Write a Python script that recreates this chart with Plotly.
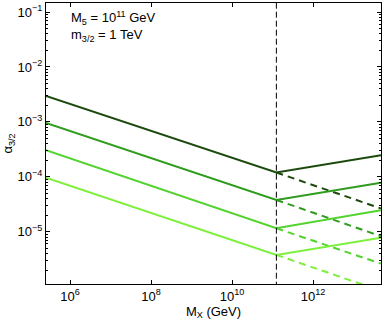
import plotly.graph_objects as go

# M_X values (GeV): left edge, kink at the dashed line, right edge
mx = [2.55e5, 1.24e11, 4.74e13]
mx_dash = [1.24e11, 4.74e13]
mx_vline = [1.24e11, 1.24e11]
alpha_vline = [1e-7, 1.0]

# solid curves, top (dark) to bottom (light)
alpha_solid_1 = [2.97e-3, 1.20e-4, 2.48e-4]
alpha_solid_2 = [9.6e-4, 3.8e-5, 7.8e-5]
alpha_solid_3 = [3.05e-4, 1.16e-5, 2.48e-5]
alpha_solid_4 = [9.7e-5, 3.8e-6, 7.8e-6]

# dashed continuations past the kink
alpha_dash_1 = [1.20e-4, 2.66e-5]
alpha_dash_2 = [3.8e-5, 8.3e-6]
alpha_dash_3 = [1.16e-5, 2.63e-6]
alpha_dash_4 = [3.8e-6, 8.4e-7]

colors = ["#1c4a0e", "#2f9c1e", "#52d32e", "#7df03c"]

x_tickvals = [1e6, 1e8, 1e10, 1e12]
x_ticktext = ["10<sup>6</sup>", "10<sup>8</sup>", "10<sup>10</sup>", "10<sup>12</sup>"]
y_tickvals = [1e-5, 1e-4, 1e-3, 1e-2, 1e-1]
y_ticktext = ["10<sup>\u22125</sup>", "10<sup>\u22124</sup>", "10<sup>\u22123</sup>",
              "10<sup>\u22122</sup>", "10<sup>\u22121</sup>"]
y_minor = [m * 10.0 ** e for e in range(-7, 0) for m in range(2, 10)]

fig = go.Figure()

solids = [alpha_solid_1, alpha_solid_2, alpha_solid_3, alpha_solid_4]
dashes = [alpha_dash_1, alpha_dash_2, alpha_dash_3, alpha_dash_4]

for ys, c in zip(dashes, colors):
    fig.add_trace(go.Scatter(x=mx_dash, y=ys, mode="lines",
                             line=dict(color=c, width=2, dash="7px,5px"),
                             showlegend=False))
for ys, c in zip(solids, colors):
    fig.add_trace(go.Scatter(x=mx, y=ys, mode="lines",
                             line=dict(color=c, width=2),
                             showlegend=False))

fig.add_trace(go.Scatter(x=mx_vline, y=alpha_vline, mode="lines",
                         line=dict(color="black", width=1, dash="6px,3px"),
                         showlegend=False))

axis_font = dict(family="Liberation Sans, Arial, sans-serif", size=13, color="black")
text_font = dict(family="Liberation Sans, Arial, sans-serif", size=13, color="black")

fig.update_xaxes(type="log", range=[5.407, 13.676], automargin=False,
                 tickmode="array", tickvals=x_tickvals, ticktext=x_ticktext,
                 ticks="inside", ticklen=4, tickcolor="black",
                 showline=True, linecolor="black", linewidth=1, mirror="ticks",
                 showgrid=False, zeroline=False, tickfont=axis_font,
                 title=dict(text="M<sub>X</sub> (GeV)", font=axis_font, standoff=2))
fig.update_yaxes(type="log", range=[-5.95, -0.836], automargin=False,
                 tickmode="array", tickvals=y_tickvals, ticktext=y_ticktext,
                 ticks="inside", ticklen=4, tickcolor="black",
                 minor=dict(tickmode="array", tickvals=y_minor, ticks="inside",
                            ticklen=2, tickcolor="black", showgrid=False),
                 showline=True, linecolor="black", linewidth=1, mirror="ticks",
                 showgrid=False, zeroline=False, tickfont=axis_font,
                 title=dict(text="\u03b1<sub>3/2</sub>", font=axis_font, standoff=2))

fig.add_annotation(xref="paper", yref="paper", x=0.07, y=0.945,
                   xanchor="left", yanchor="middle", showarrow=False,
                   text="M<sub>5</sub> = 10<sup>11</sup> GeV", font=text_font)
fig.add_annotation(xref="paper", yref="paper", x=0.07, y=0.885,
                   xanchor="left", yanchor="middle", showarrow=False,
                   text="m<sub>3/2</sub> = 1 TeV", font=text_font)

fig.update_layout(width=382, height=328,
                  margin=dict(l=46, r=1, t=3, b=44),
                  paper_bgcolor="white", plot_bgcolor="white")

# drop the browser's default body margin so the figure sits at the page corner
fig.write_html("out.html", config={"displayModeBar": False},
               post_script="document.body.style.margin='0';")
